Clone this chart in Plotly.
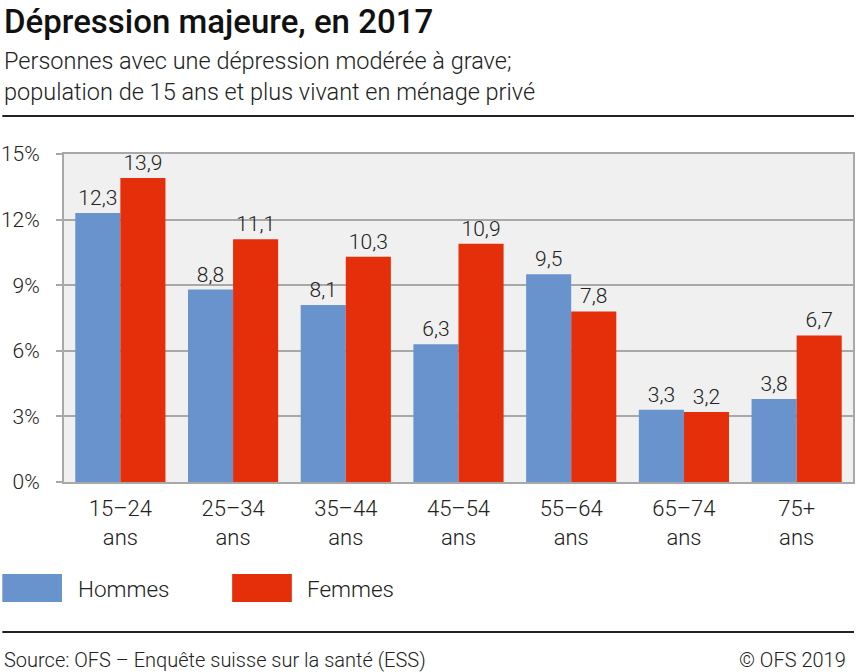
import plotly.graph_objects as go

categories = ["15–24<br>ans", "25–34<br>ans", "35–44<br>ans", "45–54<br>ans", "55–64<br>ans", "65–74<br>ans", "75+<br>ans"]
hommes = [12.3, 8.8, 8.1, 6.3, 9.5, 3.3, 3.8]
femmes = [13.9, 11.1, 10.3, 10.9, 7.8, 3.2, 6.7]
y_ticks = [0, 3, 6, 9, 12, 15]
y_tick_labels = ["0%", "3%", "6%", "9%", "12%", "15%"]

BLUE = "#6993cc"
RED = "#e52f0b"
FONT = "Roboto Light, Roboto, sans-serif"
FONT_B = "Roboto, sans-serif"
TXT = "#222222"

W, H = 856, 672
ML, MR, MT, MB = 62, 1, 154, 190
PW, PH = W - ML - MR, H - MT - MB

def px(x):
    return (x - ML) / PW

def py(y):
    return (H - MB - y) / PH

fig = go.Figure()
for name, vals, col in [("Hommes", hommes, BLUE), ("Femmes", femmes, RED)]:
    fig.add_trace(go.Bar(
        x=categories, y=vals, name=name, marker=dict(color=col, line=dict(width=0)),
        texttemplate="%{y:.1f}", textposition="outside", cliponaxis=False,
        textfont=dict(family=FONT, size=21, color=TXT, weight=300),
        showlegend=False,
    ))

shapes = [
    dict(type="line", xref="paper", yref="paper", x0=px(0), x1=px(W), y0=py(116), y1=py(116),
         line=dict(color="#222222", width=2)),
    dict(type="line", xref="paper", yref="paper", x0=px(0), x1=px(W), y0=py(632), y1=py(632),
         line=dict(color="#222222", width=2)),
    dict(type="rect", xref="paper", yref="paper", x0=px(0), x1=px(60), y0=py(574), y1=py(602),
         fillcolor=BLUE, line=dict(width=0)),
    dict(type="rect", xref="paper", yref="paper", x0=px(231), x1=px(291), y0=py(574), y1=py(602),
         fillcolor=RED, line=dict(width=0)),
]

annotations = [
    dict(text="Dépression majeure, en 2017", xref="paper", yref="paper", x=px(0), y=py(21),
         xanchor="left", yanchor="middle", showarrow=False,
         font=dict(family=FONT_B, size=33, color="#111111", weight=500)),
    dict(text="Personnes avec une dépression modérée à grave;<br>population de 15 ans et plus vivant en ménage privé",
         xref="paper", yref="paper", x=px(0), y=py(76), xanchor="left", yanchor="middle",
         align="left", showarrow=False, font=dict(family=FONT, size=23.5, color=TXT, weight=300)),
    dict(text="Hommes", xref="paper", yref="paper", x=px(74), y=py(589), xanchor="left", yanchor="middle",
         showarrow=False, font=dict(family=FONT, size=22.5, color=TXT, weight=300)),
    dict(text="Femmes", xref="paper", yref="paper", x=px(304), y=py(589), xanchor="left", yanchor="middle",
         showarrow=False, font=dict(family=FONT, size=22.5, color=TXT, weight=300)),
    dict(text="Source: OFS – Enquête suisse sur la santé (ESS)", xref="paper", yref="paper", x=px(0), y=py(660),
         xanchor="left", yanchor="middle", showarrow=False,
         font=dict(family=FONT, size=20, color=TXT, weight=300)),
    dict(text="© OFS 2019", xref="paper", yref="paper", x=px(850), y=py(660),
         xanchor="right", yanchor="middle", showarrow=False,
         font=dict(family=FONT, size=20, color=TXT, weight=300)),
]

fig.update_layout(
    width=W, height=H,
    margin=dict(l=ML, r=MR, t=MT, b=MB, pad=0),
    paper_bgcolor="white", plot_bgcolor="#f0f0f0",
    barmode="group", bargap=0.2, bargroupgap=0,
    separators=", ",
    font=dict(family=FONT, color=TXT, weight=300),
    shapes=shapes, annotations=annotations,
    showlegend=False,
)
fig.update_yaxes(
    range=[0, 15], tickmode="array", tickvals=y_ticks, ticktext=y_tick_labels,
    showgrid=True, gridcolor="#a8a8a8", gridwidth=1.5,
    showline=True, linecolor="#a8a8a8", linewidth=2, mirror=True,
    ticks="outside", ticklen=6, tickcolor="#a8a8a8", tickwidth=1.5,
    ticklabelstandoff=12,
    tickfont=dict(family=FONT, size=21, color=TXT, weight=300),
    zeroline=False, fixedrange=True,
)
fig.update_xaxes(
    showline=True, linecolor="#a8a8a8", linewidth=2, mirror=True,
    ticks="", ticklabelstandoff=6,
    tickfont=dict(family=FONT, size=22, color=TXT, weight=300),
    fixedrange=True,
)

fig.write_html("out.html", config={"displayModeBar": False},
               post_script="document.body.style.margin='0';document.body.style.padding='0';")
